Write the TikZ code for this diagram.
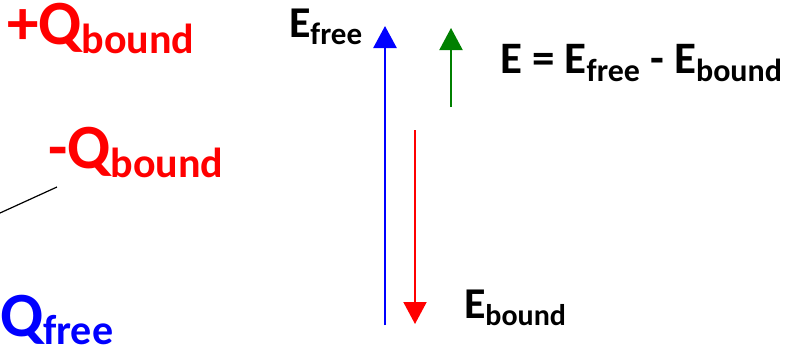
\documentclass[tikz,border=0pt]{standalone}
\usepackage{fontspec}
\setmainfont{Carlito}
\usetikzlibrary{arrows.meta}
\definecolor{qred}{RGB}{255,0,0}
\definecolor{qblue}{RGB}{0,0,255}
\definecolor{qgreen}{RGB}{0,128,0}
\newcommand{\mksub}[5]{{\fontsize{#1}{#1}\selectfont #2}\raisebox{-#5pt}{\fontsize{#3}{#3}\selectfont #4}}
\begin{document}
\begin{tikzpicture}[x=1pt,y=-1pt,
  lbl/.style={anchor=base west,inner sep=0pt,outer sep=0pt,font=\bfseries},
  arr/.style={-{Triangle[width=23pt,length=22pt]}}]
\useasboundingbox (0,0) rectangle (795,351);
% charge labels
\node[lbl,text=qred] (qpb) at (7,44) {\mksub{63}{+Q}{42}{bound}{9}};
\node[lbl,text=qred] (qmb) at (48,168) {\mksub{63}{-Q}{42}{bound}{9}};
\node[lbl,text=qblue] (qf) at (0,336) {\mksub{63}{Q}{42}{free}{8}};
\coordinate (l1) at (0,213);
\coordinate (l2) at (57,187);
\draw[line width=1.2pt] (l1) -- (l2);
% energy arrows
\coordinate (b1) at (385,325);
\coordinate (b2) at (385,26);
\draw[arr,qblue,line width=2.6pt] (b1) -- (b2);
\coordinate (r1) at (415,130);
\coordinate (r2) at (415,324);
\draw[arr,qred,line width=2pt] (r1) -- (r2);
\coordinate (g1) at (451,107);
\coordinate (g2) at (451,28);
\draw[arr,qgreen,line width=2pt] (g1) -- (g2);
% energy labels
\node[lbl] (ef) at (289,37) {\mksub{44}{E}{31}{free}{7}};
\node[lbl] (eq) at (500,73) {\mksub{45}{E = E}{32}{free}{8}{\fontsize{45}{45}\selectfont\ -\ E}\raisebox{-8pt}{\fontsize{32}{32}\selectfont bound}};
\node[lbl] (eb) at (464,318) {\mksub{44}{E}{30}{bound}{7}};
\end{tikzpicture}
\end{document}
